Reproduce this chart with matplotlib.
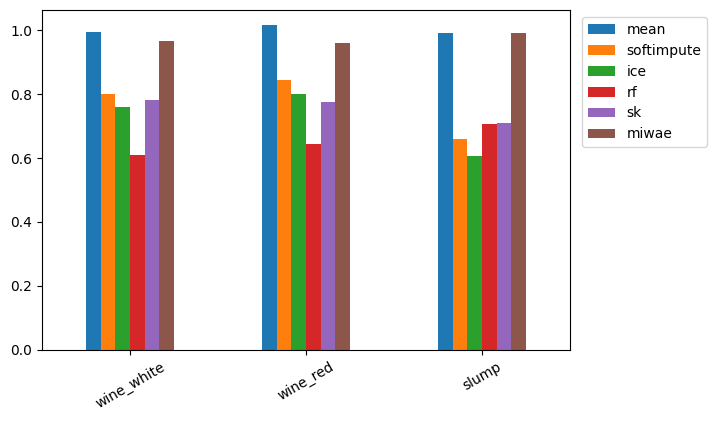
import matplotlib
matplotlib.use("Agg")
import matplotlib.pyplot as plt
import numpy as np

categories = ["wine_white", "wine_red", "slump"]
series = ["mean", "softimpute", "ice", "rf", "sk", "miwae"]
mean = [0.995, 1.015, 0.99]
softimpute = [0.80, 0.845, 0.66]
ice = [0.76, 0.80, 0.605]
rf = [0.61, 0.645, 0.705]
sk = [0.78, 0.775, 0.71]
miwae = [0.965, 0.96, 0.99]
values = [mean, softimpute, ice, rf, sk, miwae]
colors = ["#1f77b4", "#ff7f0e", "#2ca02c", "#d62728", "#9467bd", "#8c564b"]

fig = plt.figure(figsize=(7.26, 4.24), dpi=100)
ax = fig.add_axes([0.058, 0.175, 0.727, 0.801])
x = np.arange(len(categories))
w = 0.5 / len(series)
for i, (name, v) in enumerate(zip(series, values)):
    ax.bar(x - 0.25 + w * (i + 0.5), v, w, color=colors[i], label=name)
ax.set_xticks(x)
ax.set_xticklabels(categories, rotation=30)
ax.set_xlim(-0.5, 2.5)
ax.set_ylim(0, 1.0625)
ax.legend(loc="upper left", bbox_to_anchor=(1.01, 1.0))
fig.savefig("out.png", dpi=100)
